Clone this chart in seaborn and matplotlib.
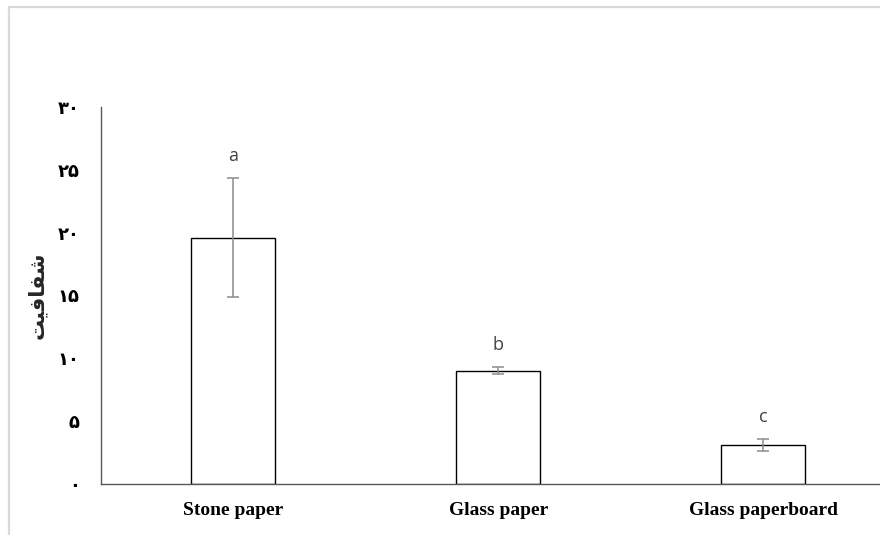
import matplotlib
matplotlib.use("Agg")
import matplotlib.pyplot as plt
import seaborn as sns
import pandas as pd
from matplotlib.lines import Line2D

# ---- data ----
categories = ["Stone paper", "Glass paper", "Glass paperboard"]
means = [19.6, 9.0, 3.1]
errors = [4.75, 0.28, 0.45]
letters = ["a", "b", "c"]
ytick_values = [0, 5, 10, 15, 20, 25, 30]
ytick_labels = ["\u06F0", "\u06F5", "\u06F1\u06F0", "\u06F1\u06F5",
                "\u06F2\u06F0", "\u06F2\u06F5", "\u06F3\u06F0"]
# "شفافیت" written in shaped (presentation) forms, visual order
ylabel_text = "\uFE96\uFEF4\uFED3\uFE8E\uFED4\uFEB7"

df = pd.DataFrame({"category": categories, "value": means})

sns.set_theme(style="white")
plt.rcParams["font.family"] = ["DejaVu Sans"]

W, H = 880, 535
fig = plt.figure(figsize=(W / 100, H / 100), dpi=100)
fig.patch.set_facecolor("white")

left, right = 100.5, 880
top_px, bot_px = 107, 484
ax = fig.add_axes([left / W, (H - bot_px) / H, (right - left) / W, (bot_px - top_px) / H])
ax.set_facecolor("white")

sns.barplot(data=df, x="category", y="value", order=categories, ax=ax,
            color="white", edgecolor="black", linewidth=1.0,
            width=0.317, errorbar=None, saturation=1)

xpos = list(range(len(categories)))
ax.errorbar(xpos, means, yerr=errors, fmt="none", ecolor="#8c8c8c",
            elinewidth=1.1, capsize=4, capthick=1.1, zorder=5)

for i, (m, e, t) in enumerate(zip(means, errors, letters)):
    ax.annotate(t, xy=(i, m + e), xytext=(0, 16), textcoords="offset points",
                ha="center", va="center", fontsize=13, color="#404040",
                family=["Open Sans", "DejaVu Sans"])

ax.set_xlim(-0.5, 2.44)
ax.set_ylim(0, 30)
ax.set_yticks(ytick_values)
ax.set_yticklabels(ytick_labels, fontsize=13, fontweight="bold",
                   family=["DejaVu Sans"], color="black")
ax.set_xticks(xpos)
ax.set_xticklabels(categories, fontsize=14, fontweight="bold",
                   family=["Liberation Serif"], color="black")
ax.tick_params(axis="x", length=0, pad=13)
ax.tick_params(axis="y", length=0, pad=15)
ax.set_xlabel("")
ax.set_ylabel(ylabel_text, fontsize=15, fontweight="bold",
              family=["DejaVu Sans"], rotation=90)
ax.yaxis.set_label_coords((47 - left) / (right - left), 0.5)

for s in ["top", "right"]:
    ax.spines[s].set_visible(False)
for s in ["left", "bottom"]:
    ax.spines[s].set_color("#595959")
    ax.spines[s].set_linewidth(1.0)
ax.grid(False)

# light grey frame (top and left edges of the chart area)
fx = 9 / W
fy = 1 - 7 / H
fig.add_artist(Line2D([fx, fx], [0, fy], transform=fig.transFigure,
                      color="#d9d9d9", linewidth=1.6))
fig.add_artist(Line2D([fx, 1], [fy, fy], transform=fig.transFigure,
                      color="#d9d9d9", linewidth=1.6))

fig.savefig("out.png", dpi=100, facecolor="white")
